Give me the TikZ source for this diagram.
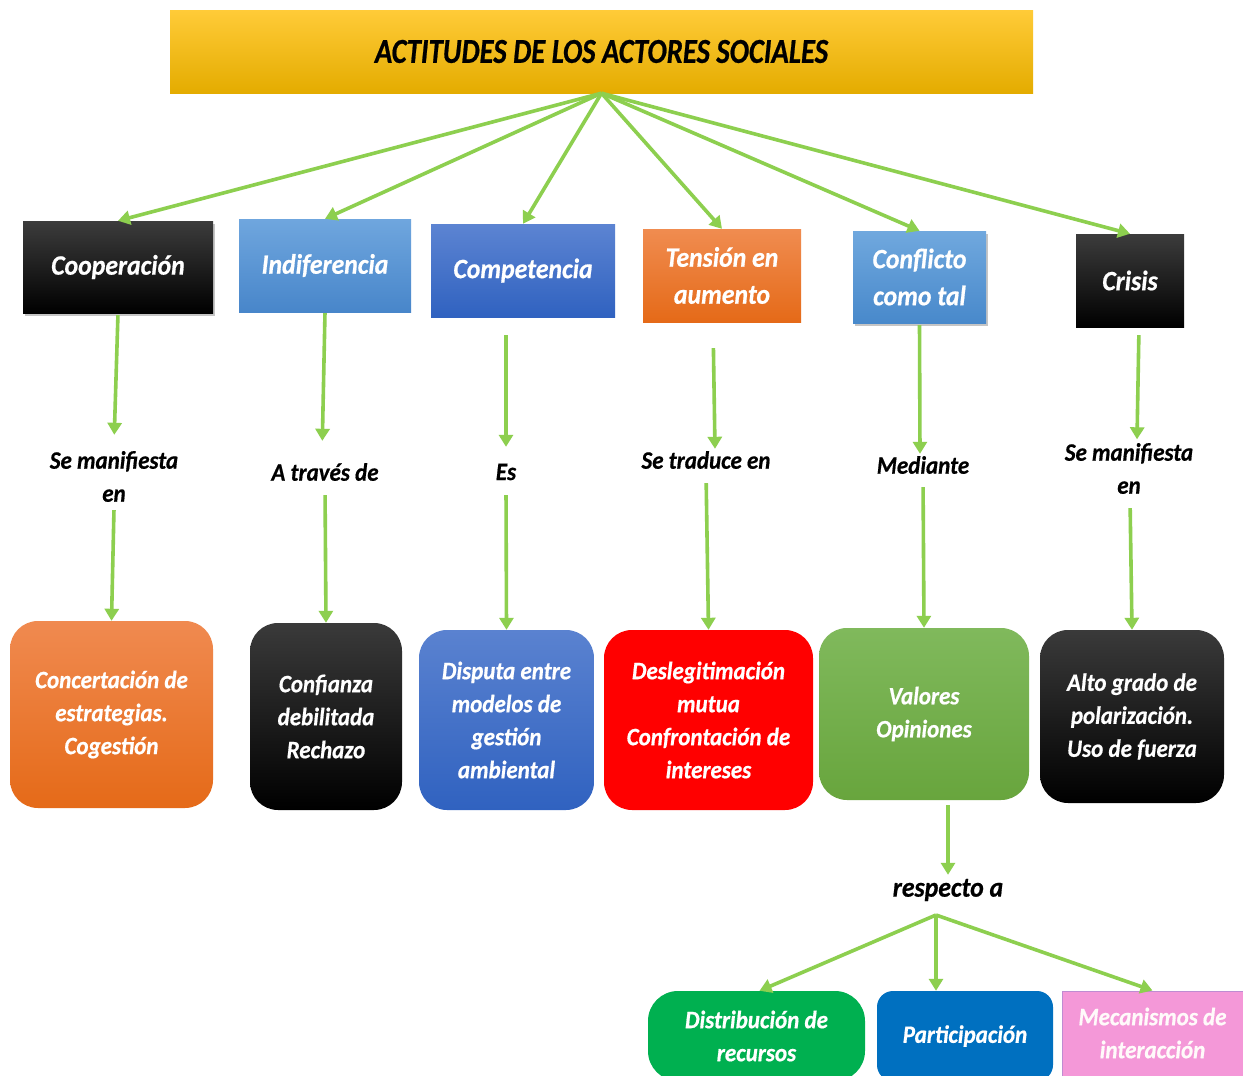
\documentclass[tikz,border=0pt]{standalone}
\usepackage{fontspec}
\setmainfont[FakeStretch=0.92, BoldItalicFeatures={FakeBold=0.6}]{Carlito}
\newfontfamily\titlefont[FakeStretch=0.82, BoldItalicFeatures={FakeBold=0.6}]{Carlito}
\usetikzlibrary{arrows.meta,shadows,calc}
\definecolor{agreen}{HTML}{8DCF4F}
\definecolor{ttop}{HTML}{FFCB38}
\tikzset{
  arr/.style={draw=agreen, line width=3.6pt, -{Triangle[length=12pt,width=14pt]}},
  bx/.style={align=center, inner sep=0pt, text=white,
    font=\bfseries\itshape\fontsize{25}{33}\selectfont},
  bxa/.style={bx, font=\bfseries\itshape\fontsize{28}{37}\selectfont},
  lbl/.style={align=center, inner sep=0pt, text=black,
    font=\bfseries\itshape\fontsize{25}{33}\selectfont},
  rb/.style={bx, rounded corners=28pt},
  sh/.style={drop shadow={shadow xshift=2pt, shadow yshift=-3pt, opacity=0.45}},
}
\begin{document}
\begin{tikzpicture}[x=1pt,y=-1pt]
\clip (0,0) rectangle (1243,1076);
\fill[white] (0,0) rectangle (1243,1076);

% title
\node[bx, text=black, minimum width=863pt, minimum height=83pt,
  top color=ttop, middle color={rgb,255:red,255;green,192;blue,0}, bottom color={rgb,255:red,228;green,172;blue,0},
  font=\titlefont\bfseries\itshape\fontsize{35}{40}\selectfont]
  (title) at (601.5,51.5) {ACTITUDES DE LOS ACTORES SOCIALES};

% level 1
\node[bxa, sh, minimum width=190pt, minimum height=92pt, top color={rgb,255:red,60;green,60;blue,60}, bottom color=black] (coop) at (118,267) {Cooperación};
\node[bxa, minimum width=172pt, minimum height=93pt, top color={rgb,255:red,111;green,166;blue,222}, bottom color={rgb,255:red,72;green,134;blue,202}] (ind) at (325,265.5) {Indiferencia};
\node[bxa, minimum width=184pt, minimum height=93pt, top color={rgb,255:red,92;green,132;blue,210}, bottom color={rgb,255:red,48;green,98;blue,192}] (comp) at (523,270.5) {Competencia};
\node[bxa, minimum width=158pt, minimum height=93pt, top color={rgb,255:red,240;green,140;blue,80}, bottom color={rgb,255:red,229;green,106;blue,24}] (ten) at (722,275.5) {Tensión en\\aumento};
\node[bxa, sh, minimum width=133pt, minimum height=92pt, top color={rgb,255:red,112;green,168;blue,222}, bottom color={rgb,255:red,72;green,137;blue,203}] (conf) at (919.5,277) {Conflicto\\como tal};
\node[bxa, minimum width=108pt, minimum height=93pt, top color={rgb,255:red,60;green,60;blue,60}, bottom color=black] (cris) at (1130,280.5) {Crisis};

% labels
\node[lbl, minimum height=64pt] (l1) at (114,476.5) {Se manifiesta\\en};
\node[lbl, minimum height=30pt] (l2) at (325,472) {A través de};
\node[lbl, minimum height=30pt] (l3) at (506,472) {Es};
\node[lbl, minimum height=22pt] (l4) at (706,460) {Se traduce en};
\node[lbl, minimum height=22pt] (l5) at (923,465) {Mediante};
\node[lbl, minimum height=58pt] (l6) at (1129,468.5) {Se manifiesta\\en};

% level 2
\node[rb, minimum width=203pt, minimum height=187pt, top color={rgb,255:red,240;green,138;blue,80}, bottom color={rgb,255:red,229;green,106;blue,24}] (b1) at (111.5,714.5) {Concertación de\\estrategias.\\Cogestión};
\node[rb, minimum width=152pt, minimum height=187pt, top color={rgb,255:red,58;green,58;blue,58}, bottom color=black] (b2) at (326,716.5) {Confianza\\debilitada\\Rechazo};
\node[rb, minimum width=175pt, minimum height=180pt, top color={rgb,255:red,90;green,130;blue,208}, bottom color={rgb,255:red,48;green,98;blue,192}] (b3) at (506.5,720) {Disputa entre\\modelos de\\gestión\\ambiental};
\node[rb, minimum width=209pt, minimum height=180pt, fill={rgb,255:red,255;green,0;blue,0}] (b4) at (708.5,720) {Deslegitimación\\mutua\\Confrontación de\\intereses};
\node[rb, minimum width=210pt, minimum height=172pt, top color={rgb,255:red,128;green,185;blue,92}, bottom color={rgb,255:red,104;green,165;blue,61}] (b5) at (924,714) {Valores\\Opiniones};
\node[rb, minimum width=184pt, minimum height=173pt, top color={rgb,255:red,58;green,58;blue,58}, bottom color=black] (b6) at (1132,716.5) {Alto grado de\\polarización.\\Uso de fuerza};

% respecto a
\node[lbl, minimum height=30pt, font=\bfseries\itshape\fontsize{28}{33}\selectfont] (resp) at (948,890) {respecto a};
\coordinate (rs) at (936,915);

% level 3
\node[bx, rounded corners=30pt, minimum width=217pt, minimum height=90pt, fill={rgb,255:red,0;green,176;blue,80}] (d1) at (756.5,1036) {Distribución de\\recursos};
\node[bx, rounded corners=16pt, minimum width=176pt, minimum height=90pt, fill={rgb,255:red,0;green,112;blue,192}] (d2) at (965,1036) {Participación};
\node[bx, minimum width=181pt, minimum height=100pt, fill={rgb,255:red,244;green,152;blue,216}, draw={rgb,255:red,190;green,140;blue,210}, line width=1pt] (d3) at (1152.5,1041) {};
\node[lbl, text=white!92!pink] (d3t) at (1152.5,1033) {Mecanismos de\\interacción};

% arrows title -> level 1
\foreach \n in {coop,ind,comp,ten,conf,cris}
  \draw[arr] (title.south) -- (\n.north);

% level1 -> labels
\draw[arr, shorten <=2pt, shorten >=9.5pt] (coop.south) -- (l1.north);
\draw[arr, shorten <=1pt, shorten >=16pt] (ind.south) -- ($(l2.north)+(-3,0)$);
\draw[arr, shorten <=18pt, shorten >=10pt] (comp.south -| l3.north) -- (l3.north);
\draw[arr, shorten <=26pt] ($(ten.south)+(-9,0)$) -- ($(l4.north)+(9,0)$);
\draw[arr, shorten <=2pt] (conf.south) -- ($(l5.north)+(-3,0)$);
\draw[arr, shorten <=8pt] ($(cris.south)+(9,0)$) -- ($(l6.north)+(8,0)$);

% labels -> level 2
\draw[arr, shorten <=1.5pt] (l1.south) -- (b1.north);
\draw[arr, shorten <=8pt] (l2.south) -- (b2.north);
\draw[arr, shorten <=8pt] (l3.south) -- (b3.north);
\draw[arr, shorten <=12pt] (l4.south) -- (b4.north);
\draw[arr, shorten <=11pt] (l5.south) -- (b5.north);
\draw[arr, shorten <=10.5pt] ($(l6.south)+(1,0)$) -- (b6.north);

% valores -> respecto a
\draw[arr, shorten <=5pt] (b5.south -| resp.north) -- (resp.north);

% respecto a -> level 3
\draw[arr] (rs) -- ($(d1.north)+(3,0)$);
\draw[arr] (rs) -- (rs |- d2.north);
\draw[arr] (rs) -- (d3.north);
\end{tikzpicture}
\end{document}
